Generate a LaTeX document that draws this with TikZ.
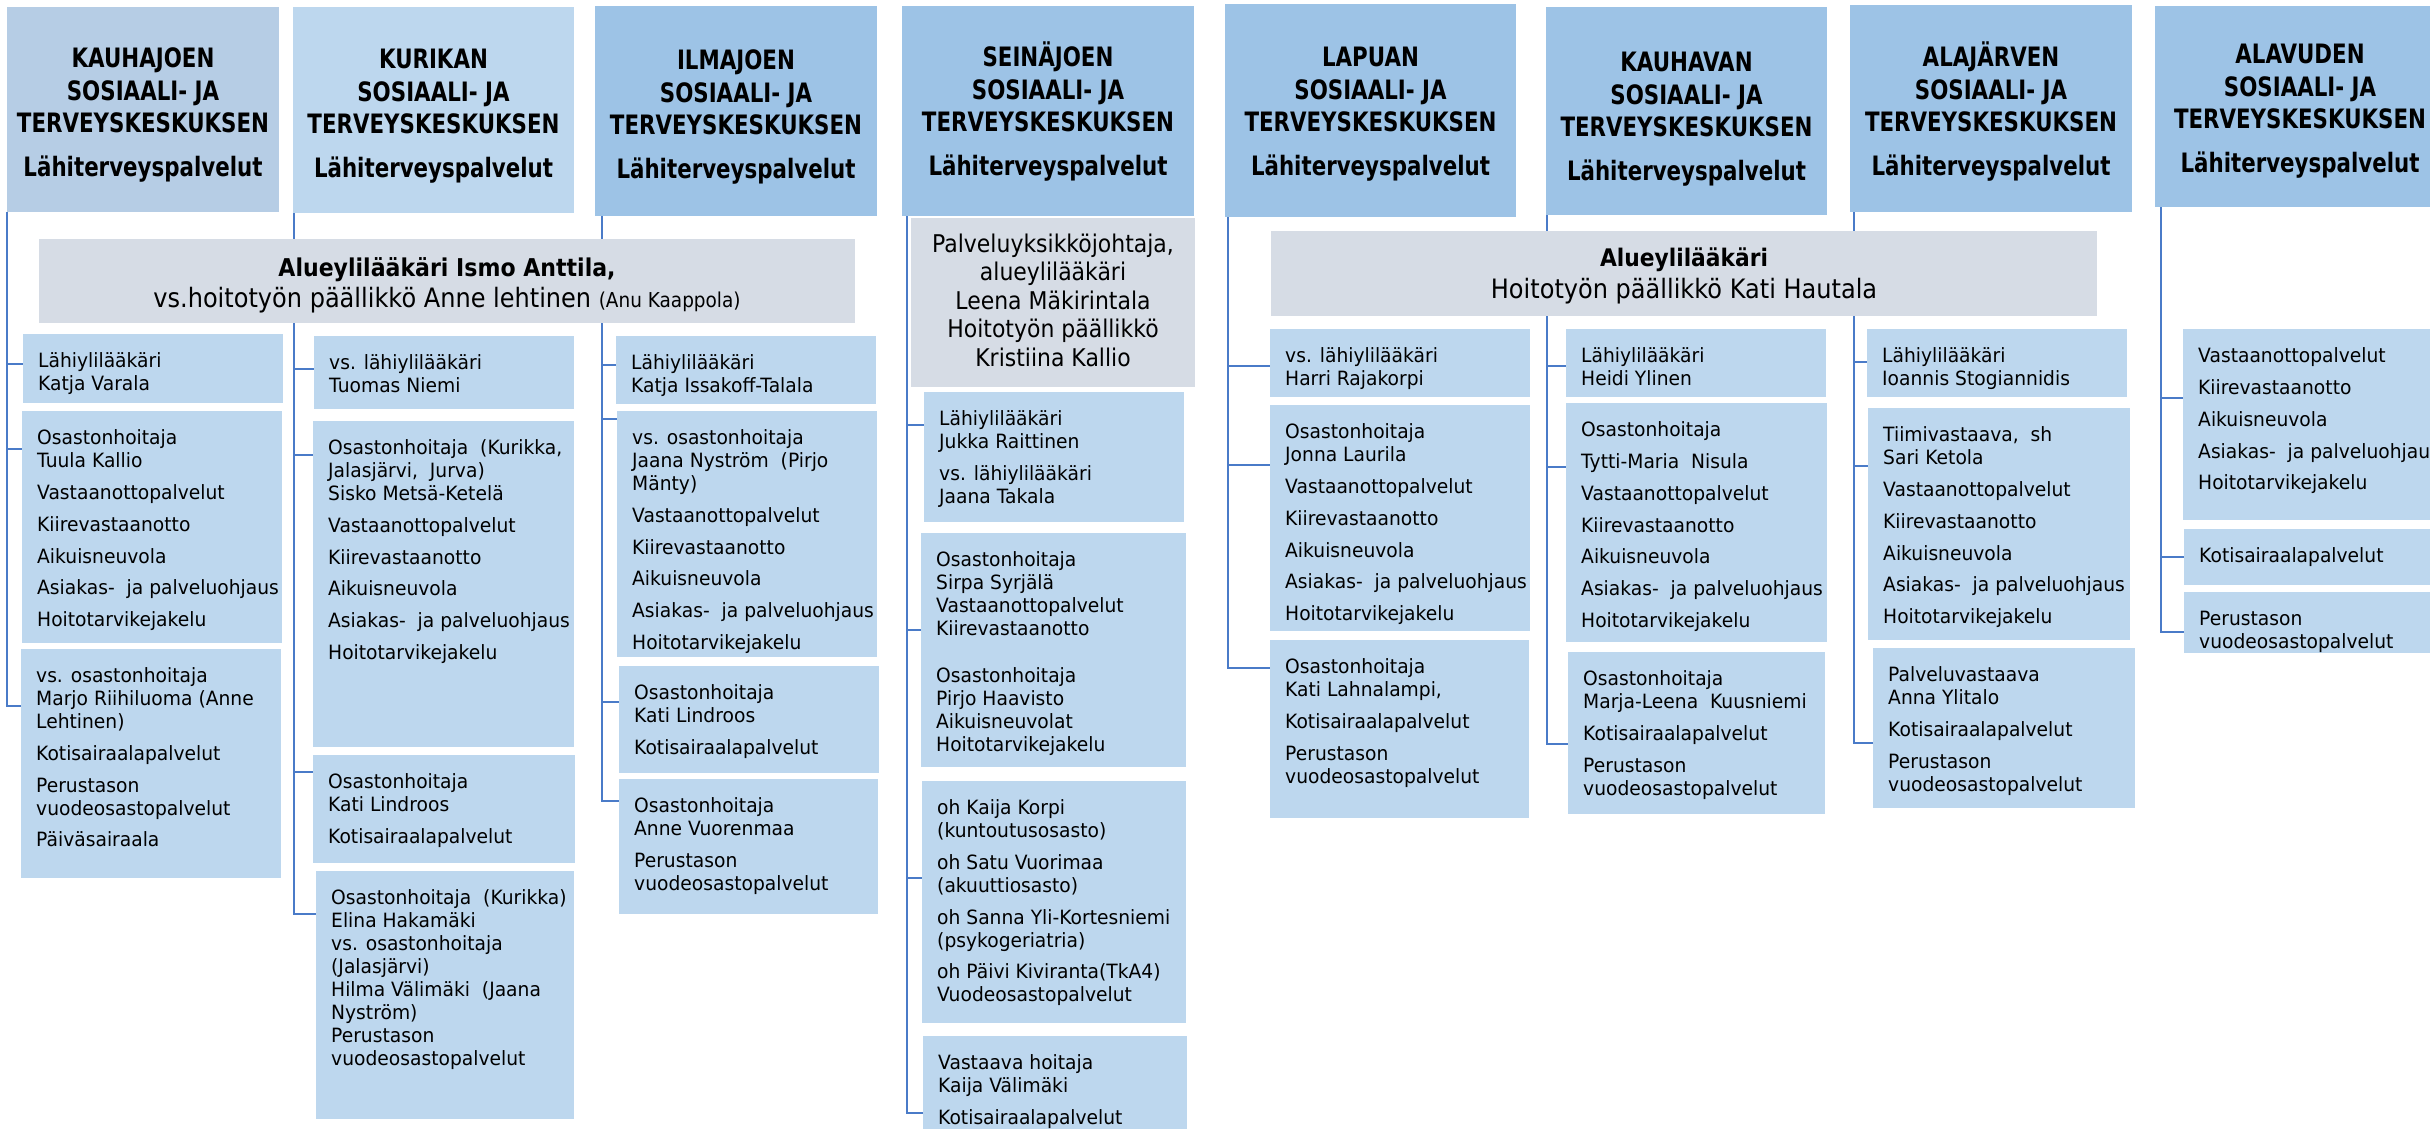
\documentclass[tikz,border=0pt]{standalone}
\usepackage{fontspec}
\setmainfont{DejaVu Sans}[FakeStretch=0.95]
\newfontfamily\hdrfont{DejaVu Sans}[FakeStretch=0.8]
\newfontfamily\gryfont{DejaVu Sans}[FakeStretch=0.9]
\pgfdeclarelayer{bg}
\pgfsetlayers{bg,main}
\definecolor{hdrA}{HTML}{B6CDE5}
\definecolor{hdrB}{HTML}{BDD7EE}
\definecolor{hdrC}{HTML}{9DC3E6}
\definecolor{cblue}{HTML}{BDD7EE}
\definecolor{gbox}{HTML}{D6DCE5}
\definecolor{lnk}{HTML}{4A7BC8}
\newcommand\bodyfont{\fontsize{19.67}{22.9}\selectfont}
\newcommand\pp{\\[8.9pt]}
\tikzset{
  boxbase/.style={anchor=north west, inner sep=0pt, outer sep=0pt, draw=none},
  child/.style={boxbase, fill=cblue},
  hdrA/.style={boxbase, fill=hdrA},
  hdrB/.style={boxbase, fill=hdrB},
  hdrC/.style={boxbase, fill=hdrC},
  grey/.style={boxbase, fill=gbox},
  ctext/.style={anchor=north west, inner sep=0pt, align=left, font=\bodyfont},
  htext/.style={anchor=north, inner sep=0pt, align=center, font=\hdrfont\bfseries\fontsize{26.7}{32.5}\selectfont},
  conn/.style={draw=lnk, line width=1.3pt},
}
% name, x1, y1, x2, y2, style
\newcommand\mkbox[6]{\node[#6, minimum width={#4pt-#2pt}, minimum height={#5pt-#3pt}] (#1) at (#2,#3) {};}
% name, x1, y1, x2, y2, text
\newcommand\mkchild[6]{\mkbox{#1}{#2}{#3}{#4}{#5}{child}%
  \node[ctext] (#1t) at ([xshift=15pt,yshift=-18.5pt]#1.north west) {\rule{0pt}{15pt}#6};}
% header: name, x1, y1, x2, y2, style, text offset, text
\newcommand\mkhdr[8]{\mkbox{#1}{#2}{#3}{#4}{#5}{#6}%
  \node[htext] (#1t) at ([yshift=-#7pt]#1.north) {\rule{0pt}{26pt}#8};}
\newcommand\hdrtxt[1]{#1\\SOSIAALI- JA\\TERVEYSKESKUKSEN\\[11.5pt]Lähiterveyspalvelut}
\begin{document}
\begin{tikzpicture}[x=1pt,y=-1pt]
\useasboundingbox (0,0) rectangle (2430,1129);
\clip (0,0) rectangle (2430,1129);

% ---------- headers ----------
\mkhdr{hA}{7}{7}{279}{212}{hdrA}{34.75}{\hdrtxt{KAUHAJOEN}}
\mkhdr{hB}{293}{7}{574}{213}{hdrB}{35.75}{\hdrtxt{KURIKAN}}
\mkhdr{hC}{595}{6}{877}{216}{hdrC}{37.75}{\hdrtxt{ILMAJOEN}}
\mkhdr{hD}{902}{6}{1194}{216}{hdrC}{34.75}{\hdrtxt{SEINÄJOEN}}
\mkhdr{hE}{1225}{4}{1516}{217}{hdrC}{36.75}{\hdrtxt{LAPUAN}}
\mkhdr{hF}{1546}{7}{1827}{215}{hdrC}{38.75}{\hdrtxt{KAUHAVAN}}
\mkhdr{hG}{1850}{5}{2132}{212}{hdrC}{35.75}{\hdrtxt{ALAJÄRVEN}}
\mkhdr{hH}{2155}{6}{2445}{207}{hdrC}{31.75}{\hdrtxt{ALAVUDEN}}

% ---------- grey boxes ----------
\mkbox{gL}{39}{239}{855}{323}{grey}
\node[anchor=base, inner sep=0pt, font=\gryfont\bfseries\fontsize{24.5}{29}\selectfont] (gLt1) at (gL.north |- 0,276) {Alueylilääkäri Ismo Anttila,};
\node[anchor=base, inner sep=0pt, font=\gryfont\fontsize{26.7}{31}\selectfont] (gLt2) at (gL.north |- 0,307.7) {vs.hoitotyön päällikkö Anne lehtinen {\fontsize{20.5}{24}\selectfont(Anu Kaappola)}};

\mkbox{gD}{911}{218}{1195}{387}{grey}
\node[anchor=north, inner sep=0pt, align=center, font=\gryfont\fontsize{24.4}{28.5}\selectfont] (gDt) at ([yshift=-10pt]gD.north) {\rule{0pt}{24pt}Palveluyksikköjohtaja,\\alueylilääkäri\\Leena Mäkirintala\\Hoitotyön päällikkö\\Kristiina Kallio};

\mkbox{gR}{1271}{231}{2097}{316}{grey}
\node[anchor=base, inner sep=0pt, font=\gryfont\bfseries\fontsize{24.2}{29}\selectfont] (gRt1) at (gR.north |- 0,266) {Alueylilääkäri};
\node[anchor=base, inner sep=0pt, font=\gryfont\fontsize{26.7}{31}\selectfont] (gRt2) at (gR.north |- 0,298.7) {Hoitotyön päällikkö Kati Hautala};

% ---------- Kauhajoki ----------
\mkchild{A1}{23}{334}{283}{403}{Lähiylilääkäri\\Katja Varala}
\mkchild{A2}{22}{411}{282}{643}{Osastonhoitaja\\Tuula Kallio\pp Vastaanottopalvelut\pp Kiirevastaanotto\pp Aikuisneuvola\pp Asiakas-\ \ ja palveluohjaus\pp Hoitotarvikejakelu}
\mkchild{A3}{21}{649}{281}{878}{vs. osastonhoitaja\\Marjo Riihiluoma (Anne\\Lehtinen)\pp Kotisairaalapalvelut\pp Perustason\\vuodeosastopalvelut\pp Päiväsairaala}

% ---------- Kurikka ----------
\mkchild{B1}{314}{336}{574}{409}{vs. lähiylilääkäri\\Tuomas Niemi}
\mkchild{B2}{313}{421}{574}{747}{Osastonhoitaja\ \ (Kurikka,\\Jalasjärvi,\ \ Jurva)\\Sisko Metsä-Ketelä\pp Vastaanottopalvelut\pp Kiirevastaanotto\pp Aikuisneuvola\pp Asiakas-\ \ ja palveluohjaus\pp Hoitotarvikejakelu}
\mkchild{B3}{313}{755}{575}{863}{Osastonhoitaja\\Kati Lindroos\pp Kotisairaalapalvelut}
\mkchild{B4}{316}{871}{574}{1119}{Osastonhoitaja\ \ (Kurikka)\\Elina Hakamäki\\vs. osastonhoitaja\\(Jalasjärvi)\\Hilma Välimäki\ \ (Jaana\\Nyström)\\Perustason\\vuodeosastopalvelut}

% ---------- Ilmajoki ----------
\mkchild{C1}{616}{336}{876}{404}{Lähiylilääkäri\\Katja Issakoff-Talala}
\mkchild{C2}{617}{411}{877}{657}{vs. osastonhoitaja\\Jaana Nyström\ \ (Pirjo\\Mänty)\pp Vastaanottopalvelut\pp Kiirevastaanotto\pp Aikuisneuvola\pp Asiakas-\ \ ja palveluohjaus\pp Hoitotarvikejakelu}
\mkchild{C3}{619}{666}{879}{773}{Osastonhoitaja\\Kati Lindroos\pp Kotisairaalapalvelut}
\mkchild{C4}{619}{779}{878}{914}{Osastonhoitaja\\Anne Vuorenmaa\pp Perustason\\vuodeosastopalvelut}

% ---------- Seinäjoki ----------
\mkchild{D1}{924}{392}{1184}{522}{Lähiylilääkäri\\Jukka Raittinen\pp vs. lähiylilääkäri\\Jaana Takala}
\mkchild{D2}{921}{533}{1186}{767}{Osastonhoitaja\\Sirpa Syrjälä\\Vastaanottopalvelut\\Kiirevastaanotto\\[24.6pt]Osastonhoitaja\\Pirjo Haavisto\\Aikuisneuvolat\\Hoitotarvikejakelu}
\mkchild{D3}{922}{781}{1186}{1023}{oh Kaija Korpi\\(kuntoutusosasto)\pp oh Satu Vuorimaa\\(akuuttiosasto)\pp oh Sanna Yli-Kortesniemi\\(psykogeriatria)\pp oh Päivi Kiviranta(TkA4)\\Vuodeosastopalvelut}
\mkchild{D4}{923}{1036}{1187}{1140}{Vastaava hoitaja\\Kaija Välimäki\pp Kotisairaalapalvelut}

% ---------- Lapua ----------
\mkchild{E1}{1270}{329}{1530}{397}{vs. lähiylilääkäri\\Harri Rajakorpi}
\mkchild{E2}{1270}{405}{1530}{631}{Osastonhoitaja\\Jonna Laurila\pp Vastaanottopalvelut\pp Kiirevastaanotto\pp Aikuisneuvola\pp Asiakas-\ \ ja palveluohjaus\pp Hoitotarvikejakelu}
\mkchild{E3}{1270}{640}{1529}{818}{Osastonhoitaja\\Kati Lahnalampi,\pp Kotisairaalapalvelut\pp Perustason\\vuodeosastopalvelut}

% ---------- Kauhava ----------
\mkchild{F1}{1566}{329}{1826}{397}{Lähiylilääkäri\\Heidi Ylinen}
\mkchild{F2}{1566}{403}{1827}{642}{Osastonhoitaja\pp Tytti-Maria\ \ Nisula\pp Vastaanottopalvelut\pp Kiirevastaanotto\pp Aikuisneuvola\pp Asiakas-\ \ ja palveluohjaus\pp Hoitotarvikejakelu}
\mkchild{F3}{1568}{652}{1825}{814}{Osastonhoitaja\\Marja-Leena\ \ Kuusniemi\pp Kotisairaalapalvelut\pp Perustason\\vuodeosastopalvelut}

% ---------- Alajärvi ----------
\mkchild{G1}{1867}{329}{2127}{397}{Lähiylilääkäri\\Ioannis Stogiannidis}
\mkchild{G2}{1868}{408}{2130}{640}{Tiimivastaava,\ \ sh\\Sari Ketola\pp Vastaanottopalvelut\pp Kiirevastaanotto\pp Aikuisneuvola\pp Asiakas-\ \ ja palveluohjaus\pp Hoitotarvikejakelu}
\mkchild{G3}{1873}{648}{2135}{808}{Palveluvastaava\\Anna Ylitalo\pp Kotisairaalapalvelut\pp Perustason\\vuodeosastopalvelut}

% ---------- Alavus ----------
\mkchild{H1}{2183}{329}{2445}{520}{Vastaanottopalvelut\pp Kiirevastaanotto\pp Aikuisneuvola\pp Asiakas-\ \ ja palveluohjaus\pp Hoitotarvikejakelu}
\mkchild{H2}{2184}{529}{2445}{585}{Kotisairaalapalvelut}
\mkchild{H3}{2184}{592}{2445}{653}{Perustason\\vuodeosastopalvelut}

% ---------- connectors ----------
\coordinate (busA) at (hA.south west -| 7,0);
\coordinate (busB) at (hB.south west -| 294,0);
\coordinate (busC) at (hC.south west -| 602,0);
\coordinate (busD) at (hD.south west -| 907,0);
\coordinate (busE) at (hE.south west -| 1228,0);
\coordinate (busF) at (hF.south west -| 1547,0);
\coordinate (busG) at (hG.south west -| 1854,0);
\coordinate (busH) at (hH.south west -| 2161,0);
\begin{pgfonlayer}{bg}
\draw[conn] (busA) |- (A1.west |- 0,364);
\draw[conn] (busA) |- (A2.west |- 0,449);
\draw[conn] (busA) |- (A3.west |- 0,706);
\draw[conn] (busB) |- (B1.west |- 0,369);
\draw[conn] (busB) |- (B2.west |- 0,455);
\draw[conn] (busB) |- (B3.west |- 0,772);
\draw[conn] (busB) |- (B4.west |- 0,914);
\draw[conn] (busC) |- (C1.west |- 0,365);
\draw[conn] (busC) |- (C2.west |- 0,419);
\draw[conn] (busC) |- (C3.west |- 0,702);
\draw[conn] (busC) |- (C4.west |- 0,801);
\draw[conn] (busD) |- (D1.west |- 0,425);
\draw[conn] (busD) |- (D2.west |- 0,630);
\draw[conn] (busD) |- (D3.west |- 0,878);
\draw[conn] (busD) |- (D4.west |- 0,1113);
\draw[conn] (busE) |- (E1.west |- 0,366);
\draw[conn] (busE) |- (E2.west |- 0,465);
\draw[conn] (busE) |- (E3.west |- 0,668);
\draw[conn] (busF) |- (F1.west |- 0,366);
\draw[conn] (busF) |- (F2.west |- 0,467);
\draw[conn] (busF) |- (F3.west |- 0,744);
\draw[conn] (busG) |- (G1.west |- 0,362);
\draw[conn] (busG) |- (G2.west |- 0,466);
\draw[conn] (busG) |- (G3.west |- 0,743);
\draw[conn] (busH) |- (H1.west |- 0,398);
\draw[conn] (busH) |- (H2.west |- 0,557);
\draw[conn] (busH) |- (H3.west |- 0,632);
\end{pgfonlayer}
\end{tikzpicture}
\end{document}
